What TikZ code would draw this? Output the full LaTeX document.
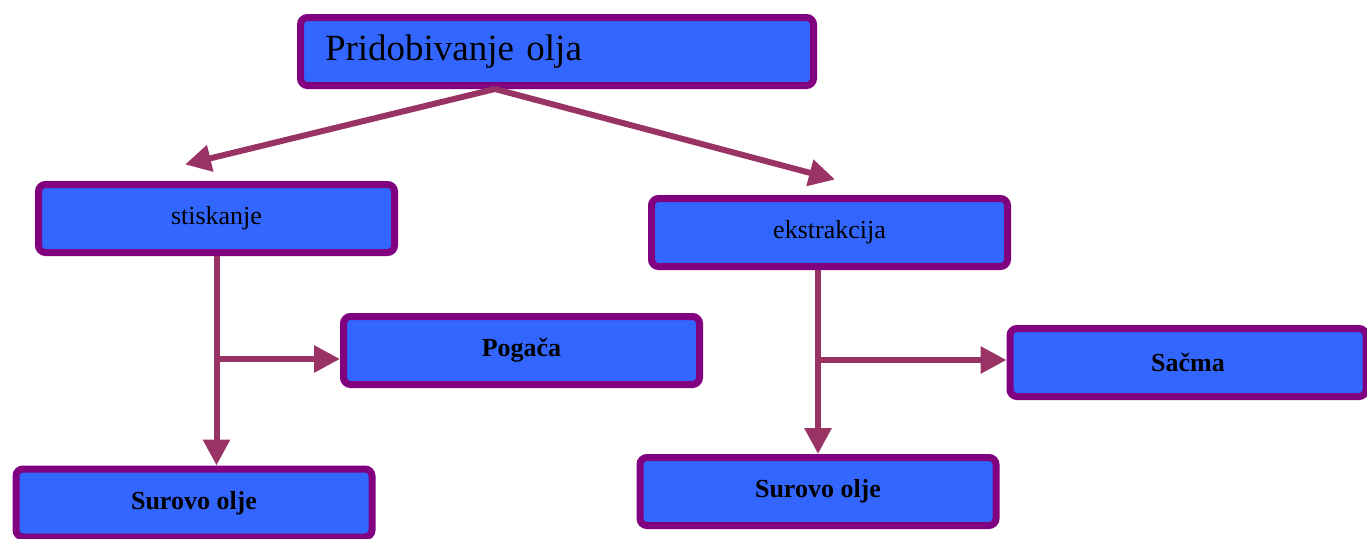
\documentclass[tikz,border=0pt]{standalone}
\usepackage{fontspec}
\setmainfont{Liberation Serif}
\usetikzlibrary{arrows.meta}
\definecolor{BoxFill}{HTML}{3366FF}
\definecolor{BoxLine}{HTML}{800080}
\definecolor{ArrowCol}{HTML}{993366}

\begin{document}
\begin{tikzpicture}[
  x=1pt, y=-1pt,
  box/.style={
    rectangle, rounded corners=7pt, draw=BoxLine, line width=7pt,
    fill=BoxFill, minimum width=356pt, minimum height=68pt,
    font=\fontsize{26}{30}\selectfont
  },
  leaf/.style={box, font=\fontsize{26}{30}\selectfont\bfseries},
  arr/.style={-{Triangle[length=26pt, width=26pt]}, draw=ArrowCol, line width=6pt}
]
\useasboundingbox (0,0) rectangle (1367,538);

% ================ vrh ================
\node[box, minimum width=513pt, text width=464pt, inner xsep=24.5pt, align=left,
      font=\fontsize{37}{42}\selectfont] (top) at (557,51.5) {Pridobivanje olja};

% ================ postopka ================
\node[box] (stisk) at (216.5,218.5) {stiskanje};
\node[box] (ekstr) at (829.5,232.5) {ekstrakcija};

% ================ produkti ================
\node[leaf] (pog)   at (521.5,350.5)  {Pogača};
\node[leaf] (sacma) at (1188,362.5)   {Sačma};
\node[leaf] (surL)  at (194,503)      {Surovo olje};
\node[leaf] (surR)  at (818,491.5)    {Surovo olje};

% ================ puščice ================
\coordinate (split) at ([xshift=-62pt]top.south);
\draw[arr] (split) -- ([xshift=-31.5pt, yshift=16.5pt]stisk.north);
\draw[arr] (split) -- ([xshift=5.5pt, yshift=15.5pt]ekstr.north);

\draw[arr] (stisk.south) -- (stisk.south |- surL.north);
\coordinate (brL) at (216.5,359);
\draw[arr] (brL) -- (brL -| pog.west);

\draw[arr] (surR.north |- ekstr.south) -- (surR.north);
\coordinate (brR) at (818,360);
\draw[arr] (brR) -- (brR -| sacma.west);
\end{tikzpicture}
\end{document}
